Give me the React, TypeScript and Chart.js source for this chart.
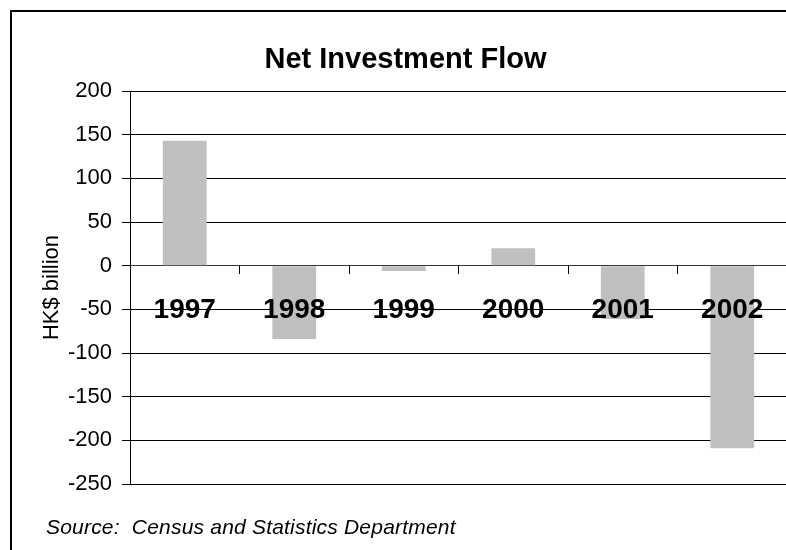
import React, { useEffect, useRef } from "react";
import { Chart, registerables } from "chart.js";

Chart.register(...registerables);

const years = ["1997", "1998", "1999", "2000", "2001", "2002"];
const netFlow = [143, -84, -6, 20, -61, -209];
const yMin = -250;
const yMax = 200;
const yStep = 50;

const FONT = "'Liberation Sans', Arial, sans-serif";

export default function App() {
  const ref = useRef<HTMLCanvasElement | null>(null);

  useEffect(() => {
    const canvas = ref.current;
    if (!canvas) return;
    const chart = new Chart(canvas, {
      type: "bar",
      data: {
        labels: years,
        datasets: [
          {
            data: netFlow,
            backgroundColor: "#c0c0c0",
            borderWidth: 0,
            barPercentage: 0.4,
            categoryPercentage: 1,
          },
        ],
      },
      options: {
        responsive: false,
        animation: false,
        devicePixelRatio: 1,
        layout: { padding: { left: 12, right: 12, top: 0, bottom: 66 } },
        plugins: {
          legend: { display: false },
          tooltip: { enabled: false },
          title: {
            display: true,
            text: "Net Investment Flow",
            color: "#000",
            font: { family: FONT, size: 29, weight: "bold", lineHeight: 1.2 },
            padding: { top: 30.4, bottom: 13.8 },
          },
        },
        scales: {
          x: {
            type: "category",
            position: { y: 0 } as any,
            grid: {
              display: true,
              offset: true,
              drawOnChartArea: false,
              drawTicks: true,
              tickLength: 8,
              tickColor: "#000",
              color: "#000",
            },
            border: { display: true, color: "#333", width: 1 },
            ticks: {
              autoSkip: false,
              maxRotation: 0,
              minRotation: 0,
              padding: 20,
              color: "#000",
              z: 1,
              font: { family: FONT, size: 28, weight: "bold", lineHeight: 1.2 },
            },
          },
          y: {
            type: "linear",
            min: yMin,
            max: yMax,
            grace: 0,
            afterFit: (scale: any) => {
              scale.width = 106;
            },
            ticks: {
              stepSize: yStep,
              padding: 10,
              color: "#000",
              font: { family: FONT, size: 22, lineHeight: 1.2 },
            },
            grid: {
              color: "#000",
              lineWidth: 1,
              drawTicks: true,
              tickLength: 8,
              tickColor: "#000",
            },
            border: { display: true, color: "#000", width: 1 },
            title: {
              display: true,
              text: "HK$ billion",
              color: "#000",
              font: { family: FONT, size: 22, lineHeight: 1.2 },
              padding: { top: 14.5, bottom: 0 },
            },
          },
        },
      },
    });
    return () => chart.destroy();
  }, []);

  return (
    <div
      style={{
        position: "fixed",
        left: 0,
        top: 0,
        width: 786,
        height: 550,
        overflow: "hidden",
        background: "#fff",
      }}
    >
      <div
        style={{
          position: "absolute",
          left: 10,
          top: 10,
          width: 800,
          height: 600,
          borderLeft: "2px solid #000",
          borderTop: "2px solid #000",
          boxSizing: "content-box",
        }}
      />
      <canvas
        ref={ref}
        width={787}
        height={538}
        style={{ position: "absolute", left: 12, top: 12, width: 787, height: 538 }}
      />
      <div
        style={{
          position: "absolute",
          left: 46,
          top: 516,
          fontFamily: FONT,
          fontStyle: "italic",
          fontSize: 21,
          lineHeight: "21px",
          letterSpacing: "0.2px",
          color: "#000",
          whiteSpace: "pre",
        }}
      >
        {"Source:  Census and Statistics Department"}
      </div>
    </div>
  );
}
